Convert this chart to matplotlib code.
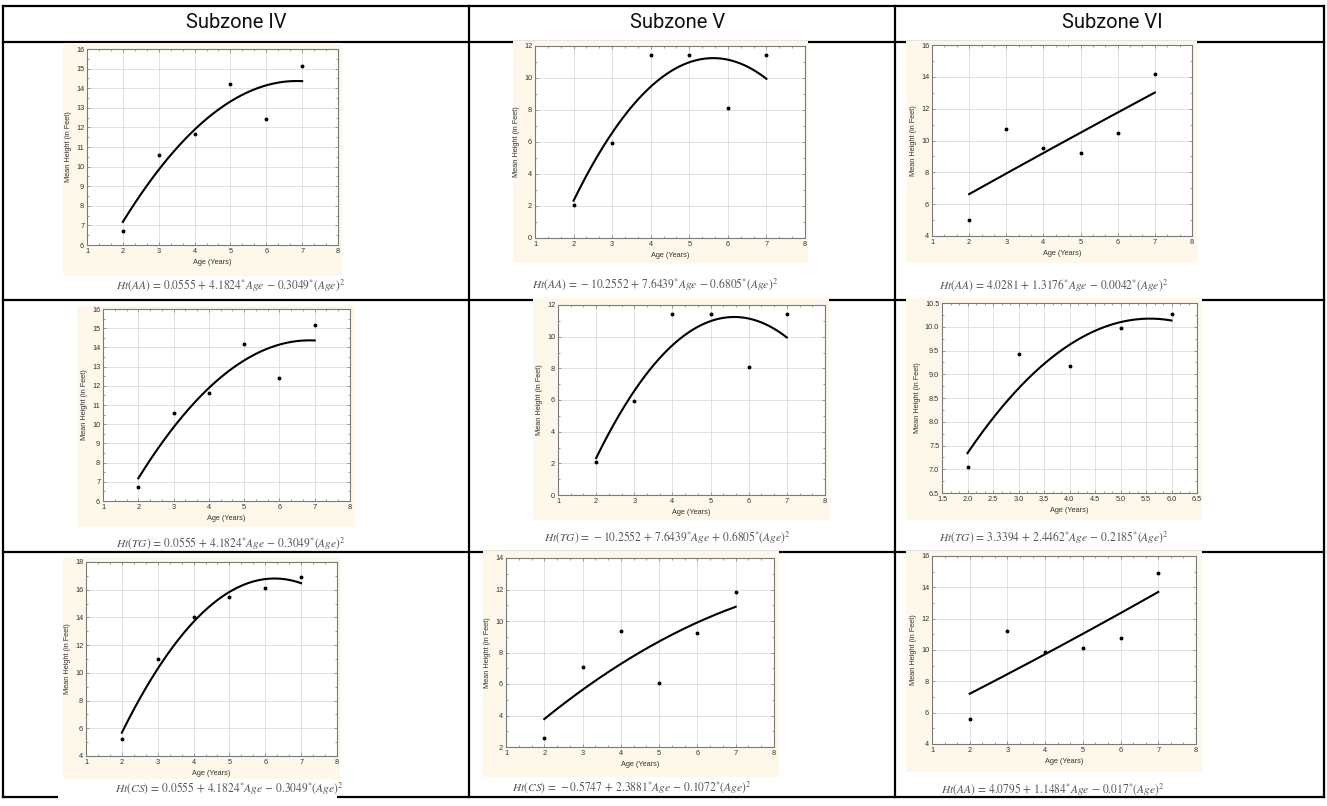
import numpy as np
import matplotlib
matplotlib.use("Agg")
import matplotlib.pyplot as plt
from matplotlib.lines import Line2D
from matplotlib.patches import Rectangle
from matplotlib.ticker import MultipleLocator, AutoMinorLocator, FormatStrFormatter

plt.rcParams["mathtext.fontset"] = "stix"

W, H = 1327, 806

# ---------------- data ----------------
headers = ["Subzone IV", "Subzone V", "Subzone VI"]

age_full = [2, 3, 4, 5, 6, 7]
age_short = [2, 3, 4, 5, 6]

h_aa_iv = [6.71, 10.59, 11.65, 14.2, 12.43, 15.15]
h_tg_iv = [6.71, 10.59, 11.65, 14.2, 12.43, 15.15]
h_cs_iv = [5.2, 11.0, 14.0, 15.5, 16.1, 16.94]

h_aa_v = [2.06, 5.96, 11.44, 11.44, 8.1, 11.44]
h_tg_v = [2.06, 5.96, 11.44, 11.44, 8.1, 11.44]
h_cs_v = [2.55, 7.06, 9.38, 6.08, 9.26, 11.87]

h_aa_vi = [5.0, 10.71, 9.52, 9.2, 10.46, 14.15]
h_tg_vi = [7.05, 9.43, 9.17, 9.97, 10.27]
h_cs_vi = [5.6, 11.21, 9.89, 10.11, 10.75, 14.93]

eq_aa_iv = r"$Ht(AA)\,=\,0.0555\,+\,4.1824{}^{*}Age\,-\,0.3049{}^{*}(Age)^{2}$"
eq_aa_v = r"$Ht(AA)\,=\,-10.2552\,+\,7.6439{}^{*}Age\,-\,0.6805{}^{*}(Age)^{2}$"
eq_aa_vi = r"$Ht(AA)\,=\,4.0281\,+\,1.3176{}^{*}Age\,-\,0.0042{}^{*}(Age)^{2}$"
eq_tg_iv = r"$Ht(TG)\,=\,0.0555\,+\,4.1824{}^{*}Age\,-\,0.3049{}^{*}(Age)^{2}$"
eq_tg_v = r"$Ht(TG)\,=\,-10.2552\,+\,7.6439{}^{*}Age\,+\,0.6805{}^{*}(Age)^{2}$"
eq_tg_vi = r"$Ht(TG)\,=\,3.3394\,+\,2.4462{}^{*}Age\,-\,0.2185{}^{*}(Age)^{2}$"
eq_cs_iv = r"$Ht(CS)\,=\,0.0555\,+\,4.1824{}^{*}Age\,-\,0.3049{}^{*}(Age)^{2}$"
eq_cs_v = r"$Ht(CS)\,=\,-0.5747\,+\,2.3881{}^{*}Age\,-\,0.1072{}^{*}(Age)^{2}$"
eq_cs_vi = r"$Ht(AA)\,=\,4.0795\,+\,1.1484{}^{*}Age\,-\,0.017{}^{*}(Age)^{2}$"

xlabel = "Age (Years)"
ylabel = "Mean Height (in Feet)"

# ---------------- layout (pixels) ----------------
# (ages, heights, equation, axes box L,T,R,B, panel box, eq centre, xlim, xstep, ylim, ystep, fmt)
panels = [
    (age_full, h_aa_iv, eq_aa_iv, (87, 49, 338, 245), (63, 43, 342, 276), (230, 285), (1, 8), 1, (6, 16), 1, "%d"),
    (age_full, h_aa_v, eq_aa_v, (535, 46, 805, 238), (513, 41, 808, 263), (655, 284), (1, 8), 1, (0, 12), 2, "%d"),
    (age_full, h_aa_vi, eq_aa_vi, (932, 45, 1192, 236), (906, 41, 1197, 263), (1053, 285), (1, 8), 1, (4, 16), 2, "%d"),
    (age_full, h_tg_iv, eq_tg_iv, (103, 309, 350, 501), (77, 306, 355, 527), (231, 543), (1, 8), 1, (6, 16), 1, "%d"),
    (age_full, h_tg_v, eq_tg_v, (558, 305, 825, 495), (533, 298, 829, 520), (667, 537), (1, 8), 1, (0, 12), 2, "%d"),
    (age_short, h_tg_vi, eq_tg_vi, (942, 303, 1197, 493), (906, 298, 1202, 520), (1054, 537), (1.5, 6.5), 0.5, (6.5, 10.5), 0.5, "%.1f"),
    (age_full, h_cs_iv, eq_cs_iv, (86, 562, 337, 756), (63, 557, 340, 785), (229, 788), (1, 8), 1, (4, 18), 2, "%d"),
    (age_full, h_cs_v, eq_cs_v, (506, 558, 774, 747), (483, 551, 779, 777), (632, 787), (1, 8), 1, (2, 14), 2, "%d"),
    (age_full, h_cs_vi, eq_cs_vi, (932, 556, 1196, 744), (906, 551, 1202, 772), (1053, 789), (1, 8), 1, (4, 16), 2, "%d"),
]

fig = plt.figure(figsize=(W / 100, H / 100), dpi=100)
fig.patch.set_facecolor("white")


def fx(x):
    return x / W


def fy(y):
    return 1 - y / H


# table lines
lw = 1.6
for x in [3, 469, 895, 1324]:
    fig.add_artist(Line2D([fx(x), fx(x)], [fy(6), fy(797)], color="black", lw=lw, zorder=1))
for y in [6, 42, 300, 552, 797]:
    fig.add_artist(Line2D([fx(3), fx(1324)], [fy(y), fy(y)], color="black", lw=lw, zorder=1))

# headers
for cx, t in zip([236, 678, 1112], headers):
    fig.text(fx(cx), fy(23), t, ha="center", va="center", fontsize=14.5,
             family=["Liberation Sans Narrow", "Roboto", "DejaVu Sans"], color="#111111")

for ages, hts, eq, abox, pbox, ec, xl, xs, yl, ys, fmt in panels:
    L, T, R, B = pbox
    fig.add_artist(Rectangle((fx(L), fy(B)), fx(R - L), (B - T) / H, transform=fig.transFigure,
                             facecolor="#FDF8EA", edgecolor="none", zorder=2))
    L, T, R, B = abox
    ax = fig.add_axes([fx(L), fy(B), fx(R - L), (B - T) / H])
    ax.set_zorder(3)
    ax.set_facecolor("white")
    ax.set_xlim(*xl)
    ax.set_ylim(*yl)
    ax.xaxis.set_major_locator(MultipleLocator(xs))
    ax.yaxis.set_major_locator(MultipleLocator(ys))
    ax.xaxis.set_minor_locator(AutoMinorLocator(3))
    ax.yaxis.set_minor_locator(AutoMinorLocator(2))
    ax.xaxis.set_major_formatter(FormatStrFormatter(fmt))
    ax.yaxis.set_major_formatter(FormatStrFormatter(fmt))
    ax.grid(True, which="major", color="#dcdcdc", lw=0.6)
    ax.set_axisbelow(True)
    for s in ax.spines.values():
        s.set_color("#7a7a7a")
        s.set_linewidth(0.8)
    ax.tick_params(which="both", direction="in", top=True, right=True, colors="#7a7a7a",
                   labelcolor="#333333", labelsize=5.3, width=0.5, pad=2)
    ax.tick_params(which="major", length=2)
    ax.tick_params(which="minor", length=1.2)
    for lab in ax.get_xticklabels() + ax.get_yticklabels():
        lab.set_family("Liberation Sans")
    ax.set_xlabel(xlabel, fontsize=5.3, family="Liberation Sans", color="#333333", labelpad=3)
    ax.set_ylabel(ylabel, fontsize=5.3, family="Liberation Sans", color="#333333", labelpad=3)

    a = np.array(ages, dtype=float)
    h = np.array(hts, dtype=float)
    coef = np.polyfit(a, h, 2)
    xx = np.linspace(a.min(), a.max(), 200)
    ax.plot(xx, np.polyval(coef, xx), color="black", lw=1.5, zorder=3)
    ax.plot(a, h, "o", color="black", ms=1.8, zorder=4)

    fig.text(fx(ec[0]), fy(ec[1]), eq, ha="center", va="center", fontsize=8.3,
             color="#555555", zorder=5)

# white box under the last-row first-column equation (covers border and axis title)
fig.add_artist(Rectangle((fx(58), fy(801)), fx(337 - 58), (801 - 779) / H, transform=fig.transFigure,
                         facecolor="white", edgecolor="none", zorder=4))

fig.savefig("out.png", dpi=100)
